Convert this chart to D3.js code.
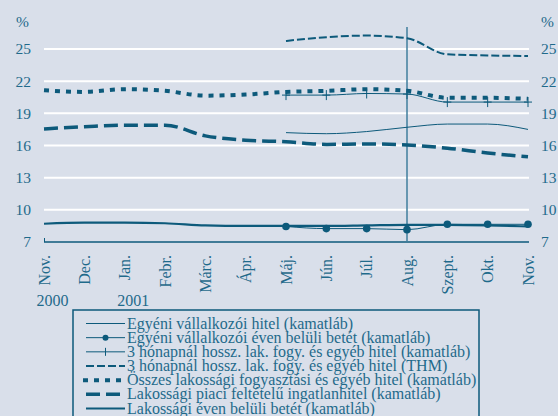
<!DOCTYPE html>
<html>
<head>
<meta charset="utf-8">
<script src="https://cdn.jsdelivr.net/npm/d3@7"></script>
<style>
  body { margin: 0; background: #d9dfea; }
  svg { display: block; }
</style>
</head>
<body>
<div id="chart"></div>
<script>
var months = ['Nov.', 'Dec.', 'Jan.', 'Febr.', 'Márc.', 'Ápr.', 'Máj.', 'Jún.', 'Júl.', 'Aug.', 'Szept.', 'Okt.', 'Nov.'];
var years = [{ idx: 0, label: '2000' }, { idx: 2, label: '2001' }];
var yTicks = [7, 10, 13, 16, 19, 22, 25];

// null = no data for that month
var egyeniHitel = [null, null, null, null, null, null, 17.2, 17.1, 17.3, 17.7, 18.0, 18.0, 17.5];
var egyeniBetet = [null, null, null, null, null, null, 8.45, 8.25, 8.25, 8.15, 8.65, 8.65, 8.65];
var hosszKamat = [null, null, null, null, null, null, 20.7, 20.7, 20.85, 20.8, 20.05, 20.05, 20.05];
var hosszThm = [null, null, null, null, null, null, 25.75, 26.1, 26.25, 26.0, 24.5, 24.4, 24.35];
var osszesHitel = [21.15, 21.0, 21.25, 21.1, 20.65, 20.75, 21.0, 21.1, 21.25, 21.1, 20.45, 20.45, 20.35];
var ingatlan = [17.55, 17.75, 17.9, 17.9, 16.9, 16.5, 16.35, 16.1, 16.15, 16.05, 15.75, 15.3, 14.95];
var lakBetet = [8.7, 8.8, 8.8, 8.75, 8.55, 8.5, 8.5, 8.5, 8.55, 8.6, 8.6, 8.55, 8.45];

var legendLabels = [
  'Egyéni vállalkozói hitel (kamatláb)',
  'Egyéni vállalkozói éven belüli betét (kamatláb)',
  '3 hónapnál hossz. lak. fogy. és egyéb hitel (kamatláb)',
  '3 hónapnál hossz. lak. fogy. és egyéb hitel (THM)',
  'Összes lakossági fogyasztási és egyéb hitel (kamatláb)',
  'Lakossági piaci feltételű ingatlanhitel (kamatláb)',
  'Lakossági éven belüli betét (kamatláb)'
];

var lineColor = '#0d5a7b',
  textColor = '#1f6a8b',
  bg = '#d9dfea',
  font = '"Liberation Serif", "Times New Roman", serif';

var series = [
  { values: egyeniHitel, width: 1, dash: null, marker: null },
  { values: egyeniBetet, width: 1, dash: null, marker: 'dot' },
  { values: hosszKamat, width: 1, dash: null, marker: 'plus' },
  { values: hosszThm, width: 2, dash: '8,3', marker: null },
  { values: osszesHitel, width: 4, dash: '5,6', marker: null },
  { values: ingatlan, width: 3.5, dash: '14,6', marker: null },
  { values: lakBetet, width: 2.2, dash: null, marker: null }
];

var width = 558, height = 416;
var svg = d3.select('#chart').append('svg')
  .attr('width', width)
  .attr('height', height)
  .style('font-family', font);

svg.append('rect').attr('width', width).attr('height', height).attr('fill', bg);

var x = d3.scalePoint().domain(d3.range(months.length)).range([44, 528]);
var y = d3.scaleLinear().domain([7, 25]).range([242, 49]);

// gridlines
svg.append('g').selectAll('line')
  .data(yTicks.filter(function(d) { return d > 7; }))
  .join('line')
  .attr('x1', 44).attr('x2', 529)
  .attr('y1', function(d) { return y(d); })
  .attr('y2', function(d) { return y(d); })
  .attr('stroke', '#ffffff')
  .attr('stroke-width', 2);

// bottom axis line + small end tick
svg.append('line')
  .attr('x1', 44).attr('x2', 529)
  .attr('y1', y(7)).attr('y2', y(7))
  .attr('stroke', lineColor).attr('stroke-width', 1.5);
svg.append('line')
  .attr('x1', 44.5).attr('x2', 44.5)
  .attr('y1', y(7) - 4).attr('y2', y(7))
  .attr('stroke', lineColor).attr('stroke-width', 1);

// vertical marker at Aug.
svg.append('line')
  .attr('x1', x(9)).attr('x2', x(9))
  .attr('y1', 27).attr('y2', y(7))
  .attr('stroke', '#3f7e9c').attr('stroke-width', 1.5);

// y labels both sides
var yl = svg.append('g').attr('fill', textColor).attr('font-size', 15.5);
yl.selectAll('text.l').data(yTicks).join('text')
  .attr('class', 'l')
  .attr('x', 31).attr('y', function(d) { return y(d); })
  .attr('dy', '0.35em')
  .attr('text-anchor', 'end')
  .text(function(d) { return d; });
yl.selectAll('text.r').data(yTicks).join('text')
  .attr('class', 'r')
  .attr('x', 541).attr('y', function(d) { return y(d); })
  .attr('dy', '0.35em')
  .text(function(d) { return d; });
yl.append('text').attr('x', 16).attr('y', 27).text('%');
yl.append('text').attr('x', 541).attr('y', 27).text('%');

// month labels
var xl = svg.append('g').attr('fill', textColor).attr('font-size', 16);
xl.selectAll('text.m').data(months).join('text')
  .attr('class', 'm')
  .attr('transform', function(d, i) { return 'translate(' + (x(i) + 5.5) + ',255) rotate(-90)'; })
  .attr('text-anchor', 'end')
  .text(function(d) { return d; });
xl.selectAll('text.y').data(years).join('text')
  .attr('class', 'y')
  .attr('x', function(d) { return x(d.idx) - 7.5; })
  .attr('y', 306)
  .text(function(d) { return d.label; });

// lines
var line = d3.line()
  .defined(function(d) { return d != null; })
  .x(function(d, i) { return x(i); })
  .y(function(d) { return y(d); })
  .curve(d3.curveMonotoneX);

var g = svg.append('g');
series.forEach(function(s) {
  g.append('path')
    .datum(s.values)
    .attr('d', line)
    .attr('fill', 'none')
    .attr('stroke', lineColor)
    .attr('stroke-width', s.width)
    .attr('stroke-dasharray', s.dash);

  var pts = s.values.map(function(v, i) { return { v: v, i: i }; })
    .filter(function(p) { return p.v != null; });
  if (s.marker === 'dot') {
    g.selectAll(null).data(pts).join('circle')
      .attr('cx', function(p) { return x(p.i); })
      .attr('cy', function(p) { return y(p.v); })
      .attr('r', 3.8)
      .attr('fill', lineColor);
  } else if (s.marker === 'plus') {
    g.selectAll(null).data(pts).join('path')
      .attr('d', function(p) {
        var cx = x(p.i), cy = y(p.v);
        return 'M' + (cx - 4) + ',' + cy + 'H' + (cx + 4) + 'M' + cx + ',' + (cy - 5) + 'V' + (cy + 5);
      })
      .attr('stroke', lineColor)
      .attr('stroke-width', 1);
  }
});

// legend
var legend = svg.append('g');
legend.append('rect')
  .attr('x', 73).attr('y', 310)
  .attr('width', 406).attr('height', 130)
  .attr('fill', bg)
  .attr('stroke', lineColor)
  .attr('stroke-width', 1.5);

var rowY = d3.scaleLinear().domain([0, 6]).range([323.5, 408.5]);
legendLabels.forEach(function(label, i) {
  var s = series[i], cy = rowY(i);
  var x1 = 86, x2 = 125;
  if (i === 4) { x1 = 83; }
  legend.append('line')
    .attr('x1', x1).attr('x2', x2)
    .attr('y1', cy).attr('y2', cy)
    .attr('stroke', lineColor)
    .attr('stroke-width', s.width)
    .attr('stroke-dasharray', s.dash);
  if (s.marker === 'dot') {
    legend.append('circle').attr('cx', (x1 + x2) / 2).attr('cy', cy).attr('r', 3).attr('fill', lineColor);
  } else if (s.marker === 'plus') {
    legend.append('line')
      .attr('x1', (x1 + x2) / 2).attr('x2', (x1 + x2) / 2)
      .attr('y1', cy - 4).attr('y2', cy + 4)
      .attr('stroke', lineColor).attr('stroke-width', 1);
  }
  legend.append('text')
    .attr('x', 127).attr('y', cy)
    .attr('dy', '0.32em')
    .attr('fill', textColor)
    .attr('font-size', 16)
    .text(label);
});
</script>
</body>
</html>
